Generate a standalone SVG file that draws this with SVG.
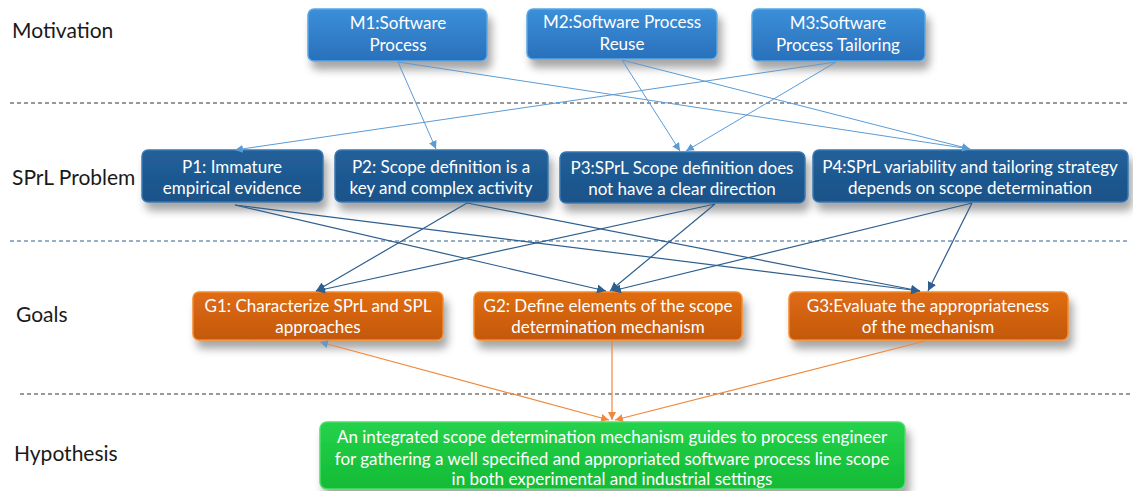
<svg xmlns="http://www.w3.org/2000/svg" width="1133" height="491" viewBox="0 0 1133 491">
<defs>
<style>
.lbl{font-family:Lato,"Open Sans","Liberation Sans",sans-serif;font-size:21px;fill:#1a1a1a}
.bt{font-family:Lato,"Open Sans","Liberation Sans",sans-serif;font-size:17px;fill:#ffffff;text-anchor:middle}
.dash{stroke:#333;stroke-width:1;stroke-dasharray:4 3;fill:none}
.c1{stroke:#5b9bd5;stroke-width:1;fill:none;marker-end:url(#a1)}
.c2{stroke:#2e5f8e;stroke-width:1.2;fill:none;marker-end:url(#a2)}
.c3{stroke:#f0883c;stroke-width:1.2;fill:none;marker-end:url(#a3)}
.m{fill:url(#gm);stroke:#5aa6e6;stroke-width:1.5}
.p{fill:url(#gp);stroke:#3a78b0;stroke-width:1.5}
.g{fill:url(#gg);stroke:#f58a2a;stroke-width:1.5}
.h{fill:url(#gh);stroke:#4be06a;stroke-width:1.5}
</style>
<linearGradient id="gm" x1="0" y1="0" x2="0" y2="1"><stop offset="0" stop-color="#3b8fd9"/><stop offset="1" stop-color="#2a70bb"/></linearGradient>
<linearGradient id="gp" x1="0" y1="0" x2="0" y2="1"><stop offset="0" stop-color="#22609a"/><stop offset="1" stop-color="#1b5288"/></linearGradient>
<linearGradient id="gg" x1="0" y1="0" x2="0" y2="1"><stop offset="0" stop-color="#e06c12"/><stop offset="1" stop-color="#c35810"/></linearGradient>
<linearGradient id="gh" x1="0" y1="0" x2="0" y2="1"><stop offset="0" stop-color="#25d24a"/><stop offset="1" stop-color="#13bb36"/></linearGradient>
<filter id="sh" x="-10%" y="-20%" width="125%" height="170%"><feDropShadow dx="4" dy="8" stdDeviation="4" flood-color="#000" flood-opacity="0.35"/></filter>
<marker id="a1" viewBox="0 0 10 10" refX="10" refY="5" markerWidth="8" markerHeight="8" orient="auto-start-reverse" markerUnits="userSpaceOnUse"><path d="M0,0 L10,5 L0,10 z" fill="#5b9bd5"/></marker>
<marker id="a2" viewBox="0 0 10 10" refX="10" refY="5" markerWidth="9" markerHeight="9" orient="auto-start-reverse" markerUnits="userSpaceOnUse"><path d="M0,0 L10,5 L0,10 z" fill="#2e5f8e"/></marker>
<marker id="a3" viewBox="0 0 10 10" refX="10" refY="5" markerWidth="8" markerHeight="8" orient="auto-start-reverse" markerUnits="userSpaceOnUse"><path d="M0,0 L10,5 L0,10 z" fill="#f0883c"/></marker>
<marker id="a4" viewBox="0 0 10 10" refX="10" refY="5" markerWidth="8" markerHeight="8" orient="auto-start-reverse" markerUnits="userSpaceOnUse"><path d="M0,0 L10,5 L0,10 z" fill="#5b9bd5"/></marker>
</defs>
<rect width="1133" height="491" fill="#ffffff"/>
<g id="separators">
<line class="dash" x1="10" y1="103" x2="1130" y2="103"/>
<line class="dash" x1="10" y1="241" x2="1130" y2="241" style="stroke:#2e5f8e"/>
<line class="dash" x1="20" y1="394" x2="1130" y2="394"/>
</g>
<g id="row-labels">
<text class="lbl" x="12" y="38">Motivation</text>
<text class="lbl" x="12" y="185">SPrL Problem</text>
<text class="lbl" x="16" y="322">Goals</text>
<text class="lbl" x="14" y="461">Hypothesis</text>
</g>
<g id="M1"><rect class="m" filter="url(#sh)" x="308" y="9" width="179" height="52" rx="6"/><text class="bt" x="398" y="29">M1:Software</text><text class="bt" x="398" y="51">Process</text></g>
<g id="M2"><rect class="m" filter="url(#sh)" x="527" y="9" width="190" height="50" rx="6"/><text class="bt" x="622" y="28">M2:Software Process</text><text class="bt" x="622" y="50">Reuse</text></g>
<g id="M3"><rect class="m" filter="url(#sh)" x="752" y="9" width="173" height="52" rx="6"/><text class="bt" x="838" y="29">M3:Software</text><text class="bt" x="838" y="51">Process Tailoring</text></g>
<g id="P1"><rect class="p" filter="url(#sh)" x="142" y="150" width="181" height="52" rx="6"/><text class="bt" x="232" y="173">P1: Immature</text><text class="bt" x="232" y="194">empirical evidence</text></g>
<g id="P2"><rect class="p" filter="url(#sh)" x="335" y="150" width="213" height="52" rx="6"/><text class="bt" x="441" y="173">P2: Scope definition is a</text><text class="bt" x="441" y="194">key and complex activity</text></g>
<g id="P3"><rect class="p" filter="url(#sh)" x="560" y="152" width="245" height="51" rx="6"/><text class="bt" x="682" y="174">P3:SPrL Scope definition does</text><text class="bt" x="682" y="195">not have a clear direction</text></g>
<g id="P4"><rect class="p" filter="url(#sh)" x="813" y="150" width="315" height="52" rx="6"/><text class="bt" x="970" y="173">P4:SPrL variability and tailoring strategy</text><text class="bt" x="970" y="194">depends on scope determination</text></g>
<g id="G1"><rect class="g" filter="url(#sh)" x="193" y="292" width="250" height="48" rx="6"/><text class="bt" x="318" y="312">G1: Characterize SPrL and SPL</text><text class="bt" x="318" y="333">approaches</text></g>
<g id="G2"><rect class="g" filter="url(#sh)" x="474" y="292" width="268" height="48" rx="6"/><text class="bt" x="608" y="312">G2: Define elements of the scope</text><text class="bt" x="608" y="333">determination mechanism</text></g>
<g id="G3"><rect class="g" filter="url(#sh)" x="789" y="292" width="279" height="48" rx="6"/><text class="bt" x="928" y="312">G3:Evaluate the appropriateness</text><text class="bt" x="928" y="333">of the mechanism</text></g>
<g id="H"><rect class="h" filter="url(#sh)" x="320" y="422" width="585" height="67" rx="7"/><text class="bt" x="612" y="443">An integrated scope determination mechanism guides to process engineer</text><text class="bt" x="612" y="465">for gathering a well specified and appropriated software process line scope</text><text class="bt" x="612" y="485">in both experimental and industrial settings</text></g>
<g id="connectors">
<line class="c1" x1="398" y1="62" x2="436" y2="149"/>
<line class="c1" x1="398" y1="62" x2="970" y2="149"/>
<line class="c1" x1="622" y1="60" x2="680" y2="151"/>
<line class="c1" x1="622" y1="60" x2="970" y2="149"/>
<line class="c1" x1="836" y1="62" x2="235" y2="150"/>
<line class="c1" x1="836" y1="62" x2="686" y2="151"/>
<line class="c2" x1="235" y1="205" x2="606" y2="291"/>
<line class="c2" x1="235" y1="205" x2="920" y2="291"/>
<line class="c2" x1="467" y1="203" x2="316" y2="291"/>
<line class="c2" x1="467" y1="203" x2="920" y2="291"/>
<line class="c2" x1="715" y1="204" x2="316" y2="291"/>
<line class="c2" x1="715" y1="204" x2="610" y2="291"/>
<line class="c2" x1="972" y1="203" x2="612" y2="291"/>
<line class="c2" x1="972" y1="203" x2="928" y2="291"/>
<line class="c3" x1="320" y1="342" x2="609" y2="420" style="marker-start:url(#a4)"/>
<line class="c3" x1="612" y1="341" x2="612" y2="420"/>
<line class="c3" x1="925" y1="341" x2="615" y2="420"/>
</g>
</svg>
